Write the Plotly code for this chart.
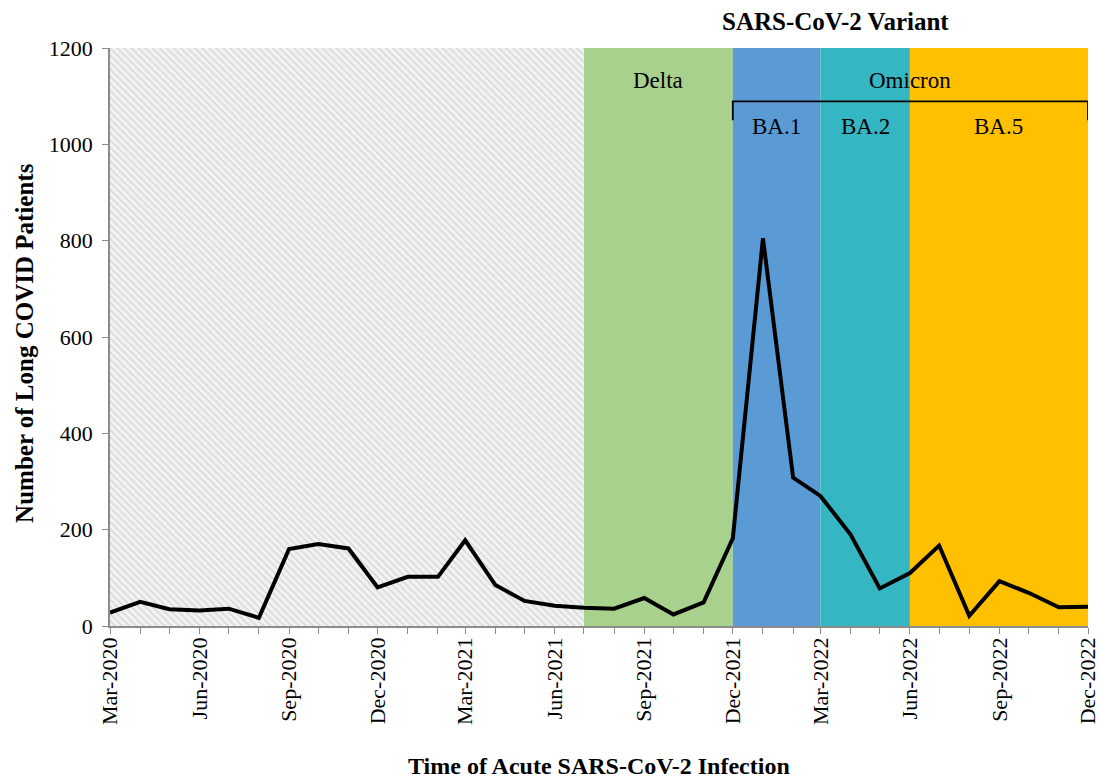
import plotly.graph_objects as go
import pandas as pd

# ---- data ----
months = pd.date_range("2020-03-01", "2022-12-01", freq="MS")
patients = [28, 50, 35, 32, 36, 17, 160, 170, 161, 80,
            102, 102, 178, 85, 52, 42, 38, 36, 58, 24, 49, 182,
            805, 308, 270, 190, 78, 110, 167, 21, 93, 69, 39, 40]

period_names = ["", "Delta", "BA.1", "BA.2", "BA.5"]
period_starts = ["2020-03-01", "2021-07-01", "2021-12-01", "2022-03-01", "2022-06-01"]
period_ends = ["2021-07-01", "2021-12-01", "2022-03-01", "2022-06-01", "2022-12-01"]
period_colors = [None, "#A9D18E", "#5B9BD5", "#35B6C3", "#FFC000"]

omicron_start = "2021-12-01"
omicron_end = "2022-12-01"

y_max = 1200
FONT = "Liberation Serif"

fig = go.Figure()

# hatched pre-Delta region
fig.add_trace(go.Scatter(
    x=[period_starts[0], period_ends[0], period_ends[0], period_starts[0], period_starts[0]],
    y=[0, 0, y_max, y_max, 0],
    fill="toself", mode="none", hoverinfo="skip", showlegend=False,
    fillcolor="#f3f3f3",
    fillpattern=dict(shape="\\", fgcolor="#c4c4c4", bgcolor="#f3f3f3", size=5, solidity=0.38),
))

# colored variant bands
for name, s, e, c in zip(period_names, period_starts, period_ends, period_colors):
    if c is None:
        continue
    fig.add_shape(type="rect", xref="x", yref="y", x0=s, x1=e, y0=0, y1=y_max,
                  fillcolor=c, line_width=0, layer="below")

fig.add_trace(go.Scatter(
    x=months, y=patients, mode="lines",
    line=dict(color="black", width=4), showlegend=False,
))

# labels
def mid(a, b):
    a, b = pd.Timestamp(a), pd.Timestamp(b)
    return a + (b - a) / 2

ann = dict(showarrow=False, xanchor="center", yanchor="middle")

fig.add_annotation(x=mid(period_starts[1], period_ends[1]), y=1132, xref="x", yref="y",
                   text="Delta", font=dict(family=FONT, size=23, color="black"), **ann)
fig.add_annotation(x=mid(omicron_start, omicron_end), y=1132, xref="x", yref="y",
                   text="Omicron", font=dict(family=FONT, size=23, color="black"), **ann)
for name, s, e in zip(period_names[2:], period_starts[2:], period_ends[2:]):
    fig.add_annotation(x=mid(s, e), y=1036, xref="x", yref="y",
                       text=name, font=dict(family=FONT, size=23, color="black"), **ann)

# omicron bracket
fig.add_shape(type="path", xref="x", yref="y",
              path=f"M {omicron_start} 1050 L {omicron_start} 1089 L {omicron_end} 1089 L {omicron_end} 1050",
              line=dict(color="black", width=1.8))

fig.add_annotation(x=mid(period_starts[1], omicron_end), y=1.045, xref="x", yref="paper",
                   text="<b>SARS-CoV-2 Variant</b>",
                   font=dict(family=FONT, size=25, color="black"), **ann)

fig.add_annotation(x=-0.0874, y=0.489, xref="paper", yref="paper", textangle=-90,
                   text="<b>Number of Long COVID Patients</b>",
                   font=dict(family=FONT, size=25, color="black"), **ann)
fig.add_annotation(x=0.5, y=-0.242, xref="paper", yref="paper",
                   text="<b>Time of Acute SARS-CoV-2 Infection</b>",
                   font=dict(family=FONT, size=24, color="black"), **ann)

fig.update_layout(
    width=1101, height=781,
    margin=dict(l=110, r=13, t=48, b=155),
    plot_bgcolor="white", paper_bgcolor="white",
    font=dict(family=FONT, size=22, color="black"),
)
fig.update_xaxes(
    type="date", range=[months[0], months[-1]], automargin=False,
    dtick="M3", tick0="2020-03-01", tickformat="%b-%Y", tickangle=-90,
    ticks="outside", ticklen=6, tickcolor="#8c8c8c", ticklabelstandoff=-5,
    minor=dict(dtick="M1", ticks="outside", ticklen=6, tickcolor="#8c8c8c", showgrid=False),
    showline=True, linecolor="#8c8c8c", linewidth=1.5,
    showgrid=False, zeroline=False,
    tickfont=dict(family=FONT, size=22, color="black"),
)
fig.update_yaxes(
    range=[0, y_max], dtick=200, automargin=False,
    ticks="outside", ticklen=6, tickcolor="#8c8c8c", ticklabelstandoff=5,
    showline=True, linecolor="#8c8c8c", linewidth=1.5,
    showgrid=False, zeroline=False,
    tickfont=dict(family=FONT, size=22, color="black"),
)

fig.write_html("out.html", config={"displayModeBar": False},
               post_script="document.body.style.margin='0';document.documentElement.style.overflow='hidden';")
